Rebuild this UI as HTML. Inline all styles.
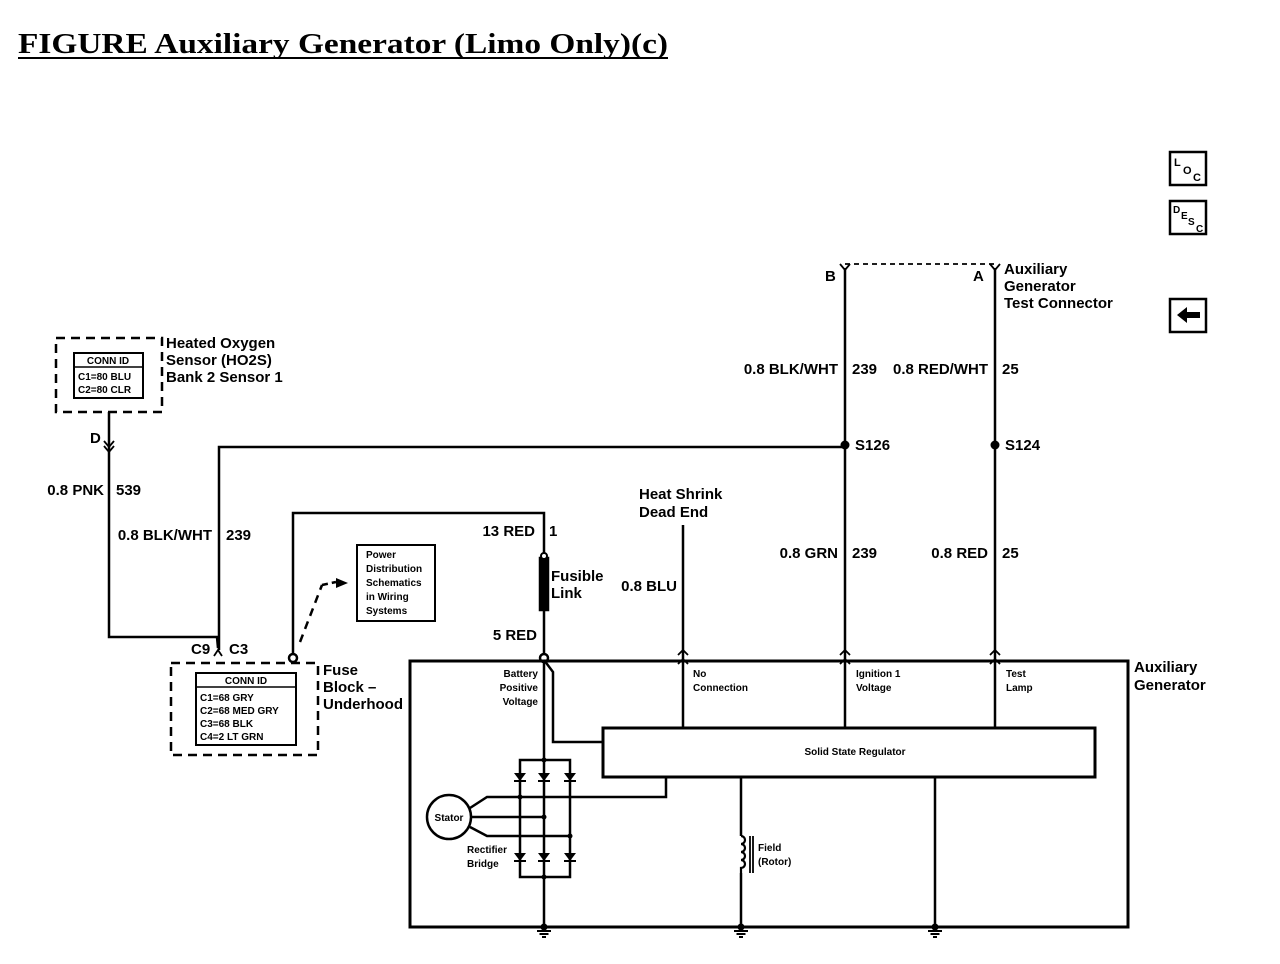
<!DOCTYPE html>
<html><head><meta charset="utf-8"><style>
html,body{margin:0;padding:0;background:#fff;}
svg{display:block;}
text{font-family:"Liberation Sans",Arial,sans-serif;font-weight:bold;fill:#000;}
</style></head><body>
<svg width="1280" height="964" viewBox="0 0 1280 964" xmlns="http://www.w3.org/2000/svg">
<defs>
<g id="gnd"><circle cx="0" cy="0" r="3.5" fill="#000"/><line x1="-7" y1="4" x2="7" y2="4" stroke="#000" stroke-width="2"/><line x1="-4.5" y1="7" x2="4.5" y2="7" stroke="#000" stroke-width="2"/><line x1="-2" y1="10" x2="2" y2="10" stroke="#000" stroke-width="2"/></g>
<g id="diode"><polygon points="-6,-3 6,-3 0,5" fill="#000"/><line x1="-6" y1="5" x2="6" y2="5" stroke="#000" stroke-width="2"/></g>
</defs>
<text x="18" y="53" textLength="650" lengthAdjust="spacingAndGlyphs" style="font-family:'Liberation Serif',serif;font-size:29px;">FIGURE Auxiliary Generator (Limo Only)(c)</text>
<line x1="18" y1="58" x2="668" y2="58" stroke="#000" stroke-width="2"/>

<g fill="none" stroke="#000" stroke-width="2.5">
<rect x="1170" y="152" width="36" height="33"/>
<rect x="1170" y="201" width="36" height="33"/>
<rect x="1170" y="299" width="36" height="33"/>
</g>
<text x="1174" y="166" style="font-size:11px">L</text><text x="1183" y="174" style="font-size:11px">O</text><text x="1193" y="181" style="font-size:11px">C</text>
<text x="1173" y="213" style="font-size:10px">D</text><text x="1181" y="219" style="font-size:10px">E</text><text x="1188" y="225" style="font-size:10px">S</text><text x="1196" y="232" style="font-size:10px">C</text>
<polygon points="1177,315 1187,307 1187,312 1200,312 1200,318 1187,318 1187,323" fill="#000"/>

<g stroke="#000" stroke-width="2.5" fill="none">
<rect x="56" y="338" width="106" height="74" stroke-dasharray="9,6"/>
<rect x="74" y="353" width="69" height="45" stroke-width="2"/>
<line x1="74" y1="367" x2="143" y2="367" stroke-width="1.5"/>
<polyline points="109,412 109,637 217,637 218,648"/>
<polyline points="104,441 109,447 114,441" stroke-width="1.8"/>
<polyline points="104,446 109,452 114,446" stroke-width="1.8"/>
<polyline points="219,650 219,447 845,447"/>
<polyline points="214,656 218,650 222,656" stroke-width="1.8"/>
<rect x="171" y="663" width="147" height="92" stroke-dasharray="9,6"/>
<rect x="196" y="673" width="100" height="72" stroke-width="2"/>
<line x1="196" y1="687" x2="296" y2="687" stroke-width="1.5"/>
<polyline points="293,655 293,513 544,513 544,553"/>
<circle cx="293" cy="658" r="4" fill="#fff"/>
<line x1="300" y1="642" x2="322" y2="585" stroke-dasharray="8,6"/>
<line x1="322" y1="585" x2="336" y2="582" stroke-dasharray="6,4"/>
<rect x="357" y="545" width="78" height="76" stroke-width="2"/>
<line x1="544" y1="553" x2="544" y2="655"/>
<rect x="540" y="558" width="8" height="52" fill="#000"/>
<circle cx="544" cy="556" r="3" fill="#fff" stroke-width="2"/>
<circle cx="544" cy="658" r="4" fill="#fff"/>
<line x1="683" y1="525" x2="683" y2="728"/>
<line x1="845" y1="268" x2="845" y2="728"/>
<line x1="995" y1="268" x2="995" y2="728"/>
<line x1="845" y1="264" x2="995" y2="264" stroke-width="1.8" stroke-dasharray="5,4"/>
<rect x="410" y="661" width="718" height="266" stroke-width="3"/>
<rect x="603" y="728" width="492" height="49" stroke-width="3"/>
<polyline points="544,660 553,672 553,742 603,742"/>
<line x1="544" y1="660" x2="544" y2="927"/>
<rect x="520" y="760" width="50" height="117"/>
<polyline points="470,808 487,797 575,797 666,797 666,777"/>
<line x1="471" y1="817" x2="544" y2="817"/>
<polyline points="470,827 487,836 570,836"/>
<circle cx="449" cy="817" r="22" fill="#fff"/>
<line x1="741" y1="777" x2="741" y2="927"/>
<line x1="935" y1="777" x2="935" y2="927"/>
<line x1="750" y1="836" x2="750" y2="873" stroke-width="1.8"/>
<line x1="753" y1="836" x2="753" y2="873" stroke-width="1.8"/>
</g>
<g stroke="#000" stroke-width="1.8" fill="none">
<polyline points="678,655 683,650 688,655"/><polyline points="678,664 683,659 688,664"/>
<polyline points="840,655 845,650 850,655"/><polyline points="840,664 845,659 850,664"/>
<polyline points="990,655 995,650 1000,655"/><polyline points="990,664 995,659 1000,664"/>
<polyline points="840,264 845,270 850,264"/><polyline points="990,264 995,270 1000,264"/>
</g>
<rect x="739" y="836" width="5" height="37" fill="#fff"/>
<path d="M741,836 a4,4 0 0 1 0,8 a4,4 0 0 1 0,8 a4,4 0 0 1 0,8 a4,4 0 0 1 0,8 l0,5" fill="none" stroke="#000" stroke-width="2.2"/>
<polygon points="336,578 348,583 336,588" fill="#000"/>
<circle cx="845" cy="445" r="4.5" fill="#000"/>
<circle cx="995" cy="445" r="4.5" fill="#000"/>
<use href="#diode" x="520" y="776"/><use href="#diode" x="544" y="776"/><use href="#diode" x="570" y="776"/>
<use href="#diode" x="520" y="856"/><use href="#diode" x="544" y="856"/><use href="#diode" x="570" y="856"/>
<g fill="#000"><circle cx="544" cy="760" r="2.5"/><circle cx="520" cy="797" r="2.5"/><circle cx="544" cy="817" r="2.5"/><circle cx="570" cy="836" r="2.5"/><circle cx="544" cy="877" r="2.5"/></g>
<use href="#gnd" x="544" y="927"/><use href="#gnd" x="741" y="927"/><use href="#gnd" x="935" y="927"/>

<g style="font-size:15px">
<text x="166" y="348">Heated Oxygen</text>
<text x="166" y="365">Sensor (HO2S)</text>
<text x="166" y="382">Bank 2 Sensor 1</text>
<text x="90" y="443">D</text>
<text x="104" y="495" text-anchor="end">0.8 PNK</text><text x="116" y="495">539</text>
<text x="212" y="540" text-anchor="end">0.8 BLK/WHT</text><text x="226" y="540">239</text>
<text x="191" y="654">C9</text><text x="229" y="654">C3</text>
<text x="323" y="675">Fuse</text><text x="323" y="692">Block –</text><text x="323" y="709">Underhood</text>
<text x="535" y="536" text-anchor="end">13 RED</text><text x="549" y="536">1</text>
<text x="551" y="581">Fusible</text><text x="551" y="598">Link</text>
<text x="537" y="640" text-anchor="end">5 RED</text>
<text x="639" y="499">Heat Shrink</text><text x="639" y="517">Dead End</text>
<text x="677" y="591" text-anchor="end">0.8 BLU</text>
<text x="825" y="281">B</text><text x="973" y="281">A</text>
<text x="1004" y="274">Auxiliary</text><text x="1004" y="291">Generator</text><text x="1004" y="308">Test Connector</text>
<text x="838" y="374" text-anchor="end">0.8 BLK/WHT</text><text x="852" y="374">239</text>
<text x="988" y="374" text-anchor="end">0.8 RED/WHT</text><text x="1002" y="374">25</text>
<text x="855" y="450">S126</text><text x="1005" y="450">S124</text>
<text x="838" y="558" text-anchor="end">0.8 GRN</text><text x="852" y="558">239</text>
<text x="988" y="558" text-anchor="end">0.8 RED</text><text x="1002" y="558">25</text>
<text x="1134" y="672">Auxiliary</text><text x="1134" y="690">Generator</text>
</g>
<g style="font-size:10px">
<text x="108" y="364" text-anchor="middle">CONN ID</text>
<text x="78" y="380">C1=80 BLU</text><text x="78" y="393">C2=80 CLR</text>
<text x="246" y="684" text-anchor="middle">CONN ID</text>
<text x="200" y="701">C1=68 GRY</text><text x="200" y="714">C2=68 MED GRY</text><text x="200" y="727">C3=68 BLK</text><text x="200" y="740">C4=2 LT GRN</text>
<text x="366" y="558">Power</text><text x="366" y="572">Distribution</text><text x="366" y="586">Schematics</text><text x="366" y="600">in Wiring</text><text x="366" y="614">Systems</text>
<text x="538" y="677" text-anchor="end">Battery</text><text x="538" y="691" text-anchor="end">Positive</text><text x="538" y="705" text-anchor="end">Voltage</text>
<text x="693" y="677">No</text><text x="693" y="691">Connection</text>
<text x="856" y="677">Ignition 1</text><text x="856" y="691">Voltage</text>
<text x="1006" y="677">Test</text><text x="1006" y="691">Lamp</text>
<text x="855" y="755" text-anchor="middle">Solid State Regulator</text>
<text x="449" y="821" text-anchor="middle">Stator</text>
<text x="467" y="853">Rectifier</text><text x="467" y="867">Bridge</text>
<text x="758" y="851">Field</text><text x="758" y="865">(Rotor)</text>
</g>
</svg>
</body></html>
